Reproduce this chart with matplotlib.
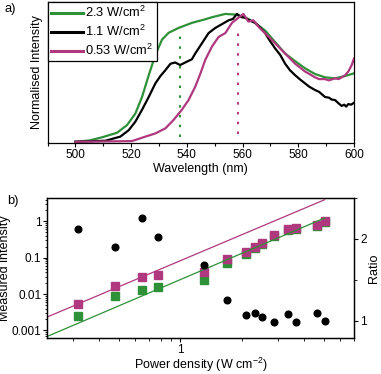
import matplotlib
matplotlib.use('Agg')
import matplotlib.pyplot as plt
from matplotlib.ticker import FuncFormatter, LogLocator, NullFormatter, MultipleLocator, NullLocator

# Panel a: normalised emission spectra
green_wl = [500, 505, 509.6, 514.9, 518.5, 521.5, 523.9, 526.3, 528.7, 531.1, 533.5, 537.0,
            541.8, 546.6, 549.0, 553.8, 557.3, 560.9, 564.5, 568.1, 571.7, 575.3, 578.9,
            582.4, 586.0, 589.6, 593.2, 596.8, 600]
green_int = [0, 0.01, 0.035, 0.07, 0.13, 0.22, 0.35, 0.52, 0.68, 0.80, 0.853, 0.89,
             0.93, 0.958, 0.974, 1.0, 0.995, 0.974, 0.93, 0.87, 0.78, 0.69, 0.63,
             0.575, 0.53, 0.504, 0.496, 0.514, 0.535]

black_wl = [500, 505, 510.8, 516.1, 519.1, 521.5, 523.9, 526.3, 528.7, 530.5, 532.3, 534.1,
            535.8, 537.6, 539.4, 541.8, 543.0, 545.4, 547.8, 550.2, 552.6, 555.0, 556.5,
            558.0, 559.5, 560.9, 562.5, 564.5, 566.0, 568.1, 569.5, 571.7, 573.5, 575.3,
            577.0, 578.9, 580.5, 582.4, 584.0, 586.0, 587.5, 589.6, 591.0, 592.0, 593.2,
            594.5, 595.6, 596.5, 597.2, 598.0, 599.0, 600]
black_int = [0, 0.003, 0.008, 0.04, 0.09, 0.157, 0.25, 0.35, 0.457, 0.514, 0.56, 0.61,
             0.62, 0.60, 0.62, 0.645, 0.69, 0.77, 0.85, 0.89, 0.92, 0.95, 0.96,
             1.0, 0.975, 0.97, 0.95, 0.93, 0.90, 0.85, 0.80, 0.73, 0.68, 0.61,
             0.56, 0.52, 0.49, 0.457, 0.43, 0.405, 0.39, 0.35, 0.345, 0.33, 0.326,
             0.30, 0.28, 0.29, 0.275, 0.295, 0.29, 0.305]

pink_wl = [500, 510, 520.3, 525.1, 528.7, 532.3, 535.2, 538.2, 540.6, 543.0, 544.8, 546.6,
           549.0, 551.4, 553.8, 556.2, 558.5, 560.3, 562.1, 563.9, 565.7, 568.1, 571.7,
           575.3, 578.9, 582.4, 584.0, 586.0, 587.5, 589.6, 591.0, 593.2, 594.5, 596.8,
           598.0, 599.2, 600]
pink_int = [0, 0.002, 0.005, 0.04, 0.065, 0.105, 0.17, 0.25, 0.326, 0.43, 0.53, 0.64,
            0.744, 0.82, 0.85, 0.93, 0.97, 1.0, 0.94, 0.95, 0.90, 0.85, 0.77,
            0.69, 0.61, 0.55, 0.53, 0.504, 0.49, 0.49, 0.48, 0.496, 0.49, 0.52,
            0.55, 0.60, 0.65]

spectra_labels = ['2.3 W/cm$^2$', '1.1 W/cm$^2$', '0.53 W/cm$^2$']
peak_green = 537.5
peak_pink = 558.5

# Panel b: power dependence
power = [0.318, 0.482, 0.649, 0.779, 1.30, 1.68, 2.08, 2.31, 2.51, 2.85, 3.36, 3.64, 4.64, 5.04]
pink_meas = [0.0053, 0.0163, 0.030, 0.033, 0.040, 0.090, 0.14, 0.20, 0.25, 0.41, 0.62, 0.64, 0.81, 1.04]
green_meas = [0.00245, 0.0087, 0.013, 0.016, 0.024, 0.071, 0.13, 0.19, 0.24, 0.39, 0.59, 0.62, 0.73, 0.96]
ratio = [2.12, 1.90, 2.25, 2.02, 1.68, 1.26, 1.07, 1.10, 1.05, 0.98, 1.08, 0.98, 1.09, 1.00]

fit_x = [0.224, 5.04]
pink_fit = [0.00233, 3.95]
green_fit = [0.00068, 1.24]

GREEN = '#2e9138'
PINK = '#b0387f'


def main() -> None:
    plt.rcParams['font.family'] = ['Liberation Sans', 'DejaVu Sans']
    plt.rcParams['mathtext.fontset'] = 'custom'
    plt.rcParams['mathtext.rm'] = 'Liberation Sans'
    plt.rcParams['xtick.labelsize'] = 8.5
    plt.rcParams['ytick.labelsize'] = 8.5
    plt.rcParams['axes.labelsize'] = 9
    plt.rcParams['axes.linewidth'] = 0.9

    fig = plt.figure(figsize=(3.81, 3.74), dpi=100)

    # ---- panel a ----
    ax1 = fig.add_axes([0.125, 0.6176, 0.804, 0.378])
    ax1.plot(green_wl, green_int, color=GREEN, lw=1.6, label=spectra_labels[0])
    ax1.plot(black_wl, black_int, color='black', lw=1.6, label=spectra_labels[1])
    ax1.plot(pink_wl, pink_int, color=PINK, lw=1.6, label=spectra_labels[2])
    ax1.vlines(peak_green, 0.04, 0.87, color=GREEN, lw=1.5, linestyles=(0, (1.2, 3.5)))
    ax1.vlines(peak_pink, 0.06, 0.87, color=PINK, lw=1.5, linestyles=(0, (1.2, 3.5)))
    ax1.set_xlim(490, 600)
    ax1.set_ylim(-0.01, 1.096)
    ax1.xaxis.set_major_locator(MultipleLocator(20))
    ax1.xaxis.set_minor_locator(MultipleLocator(10))
    ax1.yaxis.set_major_locator(NullLocator())
    ax1.tick_params(axis='x', which='major', direction='out', length=3, width=0.8, pad=1.5)
    ax1.tick_params(axis='x', which='minor', direction='out', length=1.8, width=0.8)
    ax1.set_xlabel('Wavelength (nm)', labelpad=1)
    ax1.set_ylabel('Normalised Intensity', labelpad=3)
    leg = ax1.legend(loc='upper left', borderaxespad=0, fontsize=9.3, handlelength=2.5,
                     handletextpad=0.15, borderpad=0.25, labelspacing=0.3, fancybox=False,
                     edgecolor='black', framealpha=1)
    leg.get_frame().set_linewidth(0.9)
    for line in leg.get_lines():
        line.set_linewidth(2.2)
    fig.text(0.012, 0.967, 'a)', fontsize=9.3)

    # ---- panel b ----
    ax2 = fig.add_axes([0.1234, 0.0963, 0.8056, 0.3743])
    ax2.plot(power, green_meas, 's', color=GREEN, ms=5.3, zorder=2)
    ax2.plot(power, pink_meas, 's', color=PINK, ms=5.3, zorder=2)
    ax2.plot(fit_x, pink_fit, color=PINK, lw=0.9, zorder=3)
    ax2.plot(fit_x, green_fit, color=GREEN, lw=0.9, zorder=3)
    ax2.set_xscale('log')
    ax2.set_yscale('log')
    ax2.set_xlim(0.224, 7.0)
    ax2.set_ylim(6.2e-4, 4.4)
    ax2.xaxis.set_major_locator(LogLocator(base=10))
    ax2.xaxis.set_minor_locator(LogLocator(base=10, subs=range(2, 10)))
    ax2.xaxis.set_major_formatter(FuncFormatter(lambda v, p: f'{v:g}'))
    ax2.xaxis.set_minor_formatter(NullFormatter())
    ax2.yaxis.set_major_locator(LogLocator(base=10))
    ax2.yaxis.set_minor_locator(LogLocator(base=10, subs=range(2, 10)))
    ax2.yaxis.set_major_formatter(FuncFormatter(lambda v, p: f'{v:g}'))
    ax2.yaxis.set_minor_formatter(NullFormatter())
    ax2.tick_params(which='major', direction='out', length=3, width=0.8, pad=1.2)
    ax2.tick_params(which='minor', direction='out', length=1.8, width=0.6)
    ax2.set_xlabel('Power density (W cm$^{-2}$)', labelpad=0)
    ax2.set_ylabel('Measured intensity', labelpad=0)

    ax3 = ax2.twinx()
    ax3.plot(power, ratio, 'o', color='black', ms=4.8, zorder=4)
    ax3.set_ylim(0.79, 2.50)
    ax3.yaxis.set_major_locator(MultipleLocator(1))
    ax3.yaxis.set_minor_locator(MultipleLocator(0.5))
    ax3.tick_params(which='major', direction='out', length=3, width=0.8, pad=1.5)
    ax3.tick_params(which='minor', direction='out', length=1.8, width=0.6)
    ax3.set_ylabel('Ratio', labelpad=1)
    fig.text(0.018, 0.455, 'b)', fontsize=9.3)

    fig.savefig('out.png', dpi=100)


if __name__ == '__main__':
    main()
